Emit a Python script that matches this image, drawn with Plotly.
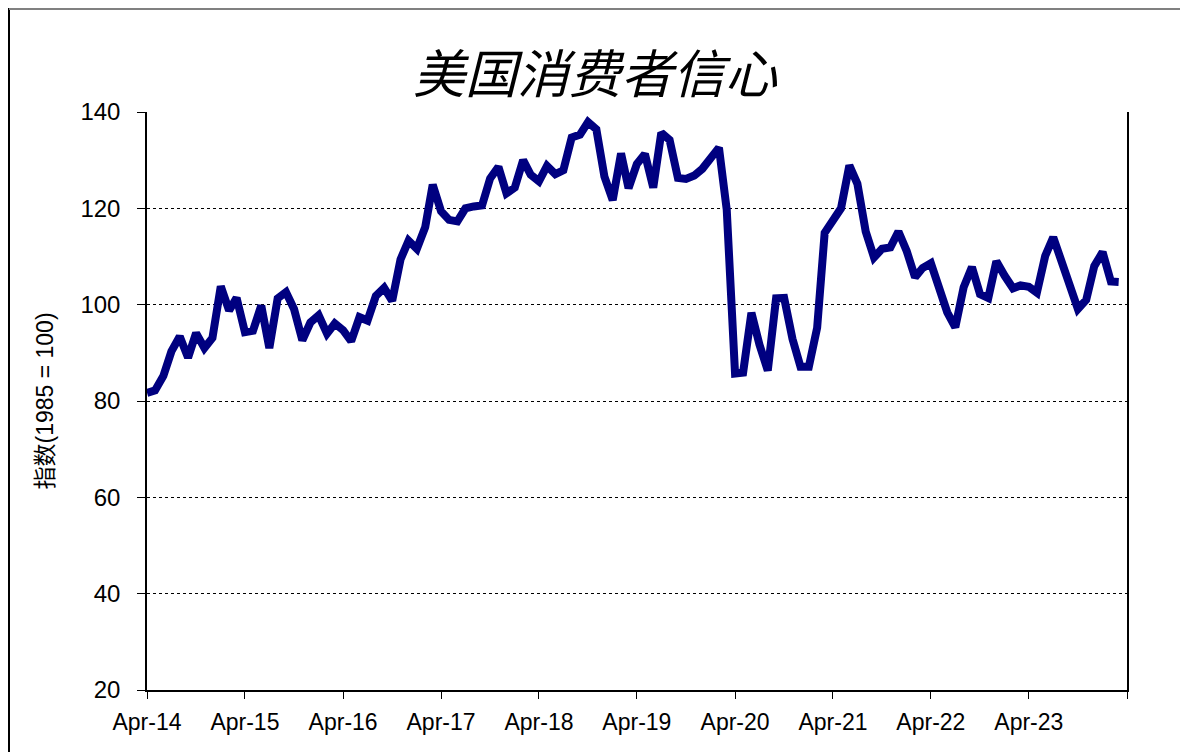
import plotly.graph_objects as go
import pandas as pd

# Monthly index values, Apr 2014 - Mar 2024
values = [
    81.7, 82.2, 85.2, 90.3, 93.4, 89.0, 94.1, 91.0, 93.1,              # 2014 Apr-Dec
    103.8, 98.8, 101.4, 94.3, 94.6, 99.8, 91.0, 101.3, 102.6, 99.1, 92.6, 96.3,   # 2015
    97.8, 94.0, 96.1, 94.7, 92.4, 97.4, 96.7, 101.8, 103.5, 100.8, 109.4, 113.3,  # 2016
    111.6, 116.1, 124.9, 119.4, 117.6, 117.3, 120.0, 120.4, 120.6, 126.2, 128.6, 123.1,  # 2017
    124.3, 130.0, 127.0, 125.6, 128.8, 127.1, 127.9, 134.7, 135.3, 137.9, 136.4, 126.6,  # 2018
    121.7, 131.4, 124.2, 129.2, 131.3, 124.3, 135.7, 134.2, 126.3, 126.1, 126.8, 128.2,  # 2019
    130.4, 132.6, 119.7, 85.7, 85.9, 98.3, 91.7, 86.3, 101.3, 101.4, 92.9, 87.1,    # 2020
    87.1, 95.2, 114.9, 117.5, 120.0, 128.9, 125.1, 115.2, 109.8, 111.6, 111.9, 115.2,  # 2021
    111.1, 105.7, 107.6, 108.6, 103.2, 98.4, 95.3, 103.6, 107.8, 102.2, 101.4, 109.0,  # 2022
    106.0, 103.4, 104.0, 103.7, 102.5, 110.1, 114.0, 108.7, 104.3, 99.1, 101.0, 108.0,  # 2023
    110.9, 104.8, 104.7,                                                # 2024 Jan-Mar
]
dates = pd.date_range("2014-04-01", periods=len(values), freq="MS")

tick_dates = pd.date_range("2014-04-01", "2024-04-01", freq="12MS")
tick_labels = ["Apr-14", "Apr-15", "Apr-16", "Apr-17", "Apr-18", "Apr-19",
               "Apr-20", "Apr-21", "Apr-22", "Apr-23", ""]
y_ticks = [20, 40, 60, 80, 100, 120, 140]

title_text = "美国消费者信心"
y_title = "指数(1985 = 100)"

FONT = "Liberation Sans, Arial, Noto Sans CJK SC, sans-serif"

fig = go.Figure()
fig.add_trace(go.Scatter(
    x=dates, y=values, mode="lines",
    line=dict(color="#000080", width=8),
    hoverinfo="skip", showlegend=False,
))

# page has an 8px body margin; figure is placed at (8, 8)
OFF = 8
W, H = 1180, 744
L, T = 147 - OFF, 112 - OFF
R = W - (1127 - OFF)
B = H - (690 - OFF)
pw, ph = W - L - R, H - T - B

def px(xp):
    return (xp - OFF - L) / pw

def py(yp):
    return (H - B - (yp - OFF)) / ph

fig.update_layout(
    width=W, height=H,
    margin=dict(l=L, r=R, t=T, b=B),
    paper_bgcolor="white", plot_bgcolor="white",
    font=dict(family=FONT, color="black"),
    title=dict(
        text=title_text,
        x=(595 - OFF) / W, xanchor="center", xref="container",
        y=1 - (75 - OFF) / H, yanchor="middle", yref="container",
        font=dict(family="Noto Sans CJK SC, sans-serif", size=52, style="italic", color="black"),
    ),
    xaxis=dict(
        type="date",
        range=[tick_dates[0], tick_dates[-1]],
        tickvals=list(tick_dates), ticktext=tick_labels,
        ticks="outside", ticklen=7, tickcolor="black", tickwidth=1,
        ticklabelstandoff=4,
        showline=True, linecolor="black", linewidth=1.5,
        showgrid=False, zeroline=False,
        tickfont=dict(size=23, family=FONT),
    ),
    yaxis=dict(
        range=[20, 140], tickvals=y_ticks,
        ticks="outside", ticklen=8, tickcolor="black", tickwidth=1,
        ticklabelstandoff=12,
        showline=True, linecolor="black", linewidth=1.5, mirror=True,
        showgrid=True, gridcolor="black", gridwidth=1, griddash="dot",
        zeroline=False,
        tickfont=dict(size=24, family=FONT),
        title=dict(text=y_title, font=dict(size=23, family=FONT), standoff=20),
    ),
    shapes=[
        dict(type="line", xref="paper", yref="paper",
             x0=px(9), x1=px(9), y0=py(8), y1=py(770),
             line=dict(color="black", width=2)),
        dict(type="line", xref="paper", yref="paper",
             x0=px(9), x1=px(1185), y0=py(9), y1=py(9),
             line=dict(color="#808080", width=2)),
        dict(type="line", xref="paper", yref="paper",
             x0=px(1185), x1=px(1185), y0=py(8), y1=py(770),
             line=dict(color="#808080", width=2)),
    ],
)

fig.write_html("out.html")
